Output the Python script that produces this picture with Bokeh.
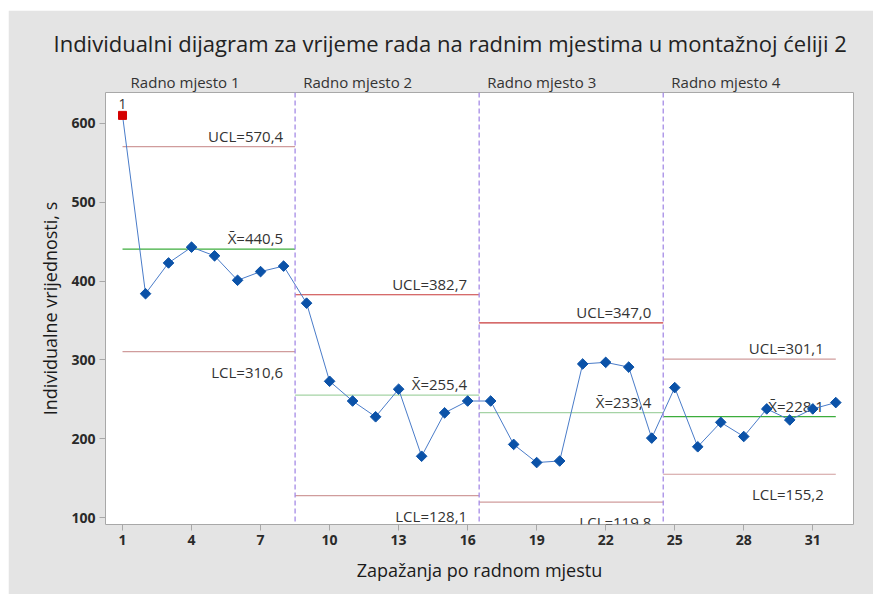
import numpy as np
from bokeh.plotting import figure
from bokeh.models import Range1d, FixedTicker, Span, LinearAxis
from bokeh.core.properties import value
from bokeh.embed import file_html
from bokeh.resources import INLINE

# ---------------- data ----------------
chart_title = "Individualni dijagram za vrijeme rada na radnim mjestima u montažnoj ćeliji 2"
x_label = "Zapažanja po radnom mjestu"
y_label = "Individualne vrijednosti, s"

observations = list(range(1, 33))
values = [610, 384, 423, 443, 432, 401, 412, 419,
          372, 273, 248, 228, 263, 178, 233, 248,
          248, 193, 170, 172, 295, 297, 291, 201,
          265, 190, 221, 203, 238, 224, 238, 246]
flagged_obs = [1]          # observations failing test 1
flagged_tag = ["1"]

phase_names = ["Radno mjesto 1", "Radno mjesto 2", "Radno mjesto 3", "Radno mjesto 4"]
phase_start = [1, 8.5, 16.5, 24.5]
phase_end = [8.5, 16.5, 24.5, 32]
phase_boundaries = [8.5, 16.5, 24.5]
ucl = [570.4, 382.7, 347.0, 301.1]
center = [440.5, 255.4, 233.4, 228.1]
lcl = [310.6, 128.1, 119.8, 155.2]

x_ticks = [1, 4, 7, 10, 13, 16, 19, 22, 25, 28, 31]
y_ticks = [100, 200, 300, 400, 500, 600]

# ---------------- style ----------------
FONT = "Open Sans"
X_START, X_END = 0.26, 32.77
Y_START, Y_END = 91.5, 639
HEADER_SHIFT = 2.72   # header label centre offset from phase start (x units)
ucl_colors = ["#d09c9c", "#c83a3a", "#c83a3a", "#d09c9c"]
lcl_colors = ["#d09c9c", "#d09c9c", "#d09c9c", "#d09c9c"]
ctr_colors = ["#3cad3c", "#a5d3a5", "#a5d3a5", "#3cad3c"]


def fmt(v):
    return f"{v:.1f}".replace(".", ",")


p = figure(frame_width=748, frame_height=432,
           x_range=Range1d(X_START, X_END), y_range=Range1d(Y_START, Y_END),
           output_backend="svg", toolbar_location=None,
           min_border_left=97, min_border_right=20, min_border_top=82, min_border_bottom=70,
           background_fill_color="white", border_fill_color="#e4e4e4",
           outline_line_color="#a8a8a8")
p.margin = (10, 0, 0, 8)

p.title.text = chart_title
p.title.text_font = FONT
p.title.text_font_size = "22px"
p.title.text_font_style = "normal"
p.title.text_color = "#222222"
p.title.align = "left"
p.title.offset = -52
p.title.standoff = 22

p.xgrid.visible = False
p.ygrid.visible = False

for ax in (p.xaxis[0], p.yaxis[0]):
    ax.axis_line_color = None
    ax.major_tick_line_color = "#a8a8a8"
    ax.major_tick_out = 6
    ax.major_tick_in = 0
    ax.minor_tick_line_color = None
    ax.major_label_text_font = FONT
    ax.major_label_text_font_size = "14px"
    ax.major_label_text_font_style = "bold"
    ax.major_label_text_color = "#2a2a2a"
    ax.axis_label_text_font = FONT
    ax.axis_label_text_font_size = "18px"
    ax.axis_label_text_font_style = "normal"
    ax.axis_label_text_color = "#1a1a1a"
    ax.major_label_standoff = 4

p.xaxis.ticker = FixedTicker(ticks=x_ticks)
p.yaxis.ticker = FixedTicker(ticks=y_ticks)
p.xaxis.axis_label = x_label
p.yaxis.axis_label = y_label
p.xaxis.axis_label_standoff = 10
p.yaxis.axis_label_standoff = 6

# phase headers as an axis above the frame
hdr_ticks = [s + HEADER_SHIFT for s in phase_start]
hdr_axis = LinearAxis(ticker=FixedTicker(ticks=hdr_ticks),
                      major_label_overrides={t: n for t, n in zip(hdr_ticks, phase_names)},
                      axis_line_color=None, major_tick_line_color=None,
                      minor_tick_line_color=None, major_tick_out=0, major_tick_in=0,
                      major_label_standoff=1, major_label_text_font=FONT,
                      major_label_text_font_size="15px", major_label_text_color="#333333")
p.add_layout(hdr_axis, "above")

# phase separators
for b in phase_boundaries:
    p.add_layout(Span(location=b, dimension="height", line_color="#a58be6",
                      line_dash="5 3", line_width=1.3))

# control limit segments
p.segment(x0=phase_start, x1=phase_end, y0=ucl, y1=ucl, line_color=ucl_colors, line_width=1.2)
p.segment(x0=phase_start, x1=phase_end, y0=lcl, y1=lcl, line_color=lcl_colors, line_width=1.2)
p.segment(x0=phase_start, x1=phase_end, y0=center, y1=center, line_color=ctr_colors, line_width=1.2)

lab_kw = dict(text_font=value(FONT), text_font_size="15px", text_color="#333333",
              text_align="right", x_offset=-12)
p.text(x=phase_end, y=ucl, text=["UCL=" + fmt(v) for v in ucl],
       text_baseline="bottom", y_offset=-1, **lab_kw)
p.text(x=phase_end, y=center, text=["X\u0304=" + fmt(v) for v in center],
       text_baseline="bottom", y_offset=-1, **lab_kw)
p.text(x=phase_end, y=lcl, text=["LCL=" + fmt(v) for v in lcl],
       text_baseline="top", y_offset=10, **lab_kw)

# data
p.line(observations, values, line_color="#4a7cc9", line_width=1)
normal_x = [o for o in observations if o not in flagged_obs]
normal_y = [v for o, v in zip(observations, values) if o not in flagged_obs]
flag_y = [values[observations.index(o)] for o in flagged_obs]
p.scatter(normal_x, normal_y, marker="square", angle=np.pi / 4, size=7.5,
          fill_color="#0b52a8", line_color="#0b52a8")
p.scatter(flagged_obs, flag_y, marker="square", size=8,
          fill_color="#d40000", line_color="#d40000")
p.text(x=flagged_obs, y=flag_y, text=flagged_tag, text_font=value(FONT),
       text_font_size="14px", text_color="#333333", text_align="center",
       text_baseline="bottom", y_offset=-6)

open("out.html", "w").write(file_html(p, INLINE))
